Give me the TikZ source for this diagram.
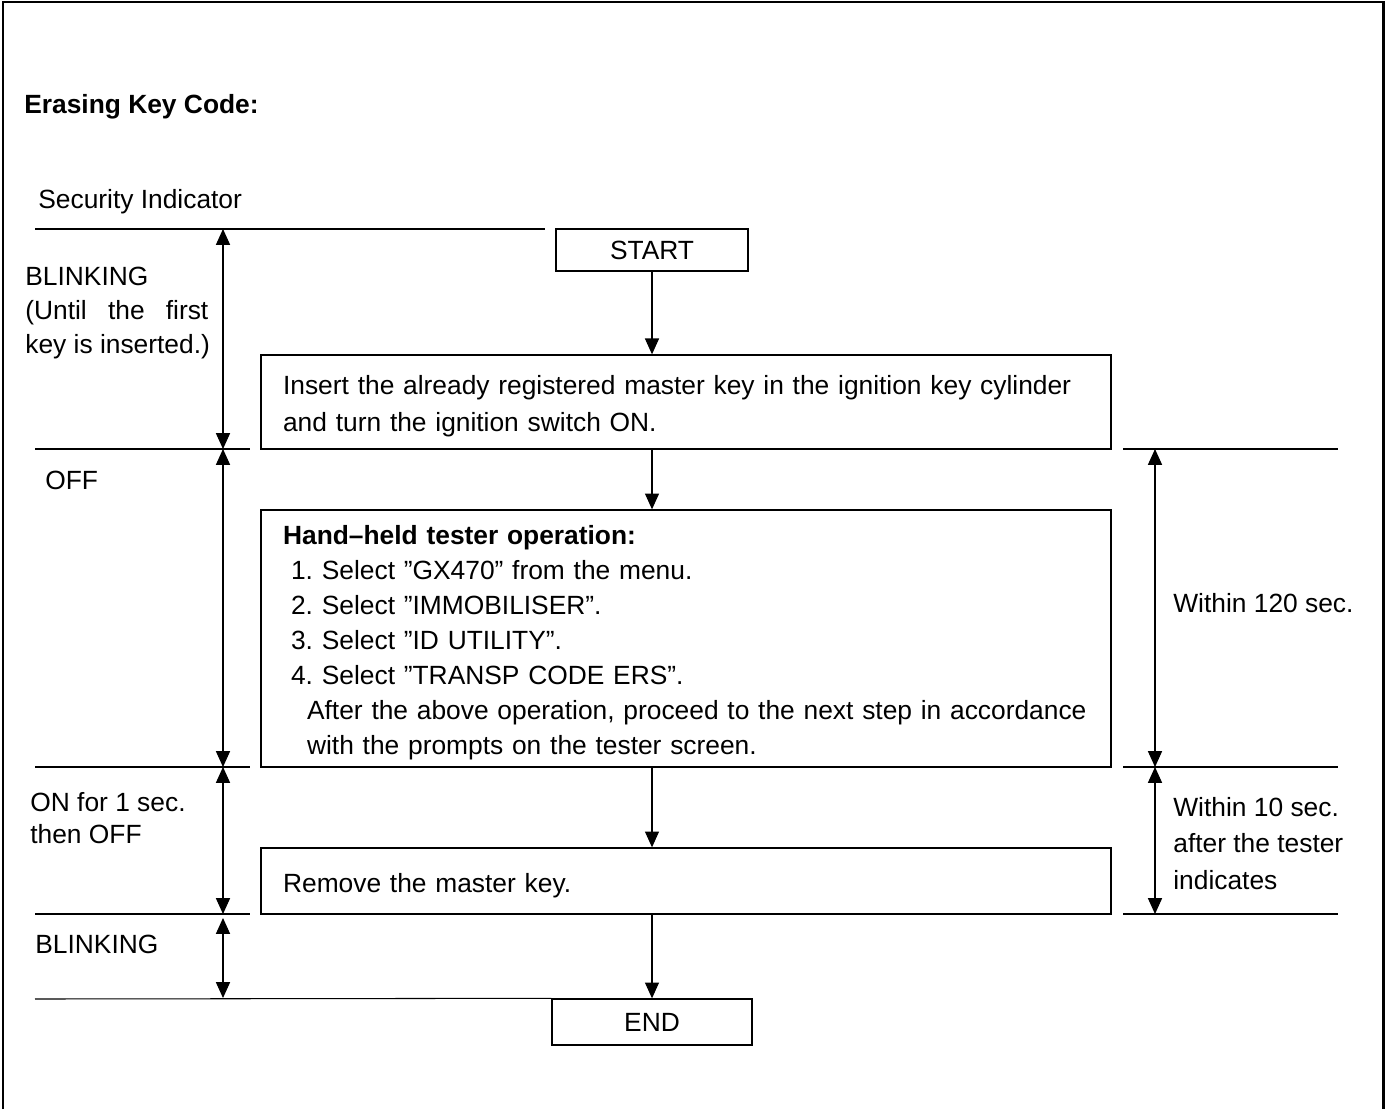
\documentclass[tikz,border=0pt]{standalone}
\usepackage{fontspec}
\setmainfont{Liberation Sans}
\usetikzlibrary{arrows.meta}

\begin{document}
\frenchspacing
\begin{tikzpicture}[x=0.02cm, y=-0.02cm, font=\fontsize{15}{20}\selectfont,
    box/.style={draw, rectangle, line width=0.8pt, inner xsep=0.44cm, inner ysep=0pt},
    stepbox/.style={box, minimum width=17cm, text width=16.12cm, align=left,
        execute at begin node=\rule{0pt}{0.55cm}},
    lbl/.style={anchor=base west, inner sep=0pt, align=left},
    rule/.style={line width=0.6pt},
    flow/.style={line width=0.6pt, -{Triangle[length=9pt, width=8pt]}},
    span/.style={line width=0.6pt, {Triangle[length=9pt, width=8pt]}-{Triangle[length=9pt, width=8pt]}}]
    \useasboundingbox (0,0) rectangle (1386,1109);
    \draw[line width=1.7pt] (3,1109) -- (3,2) -- (1383,2) -- (1383,1109);

    \node[lbl, font=\fontsize{15}{20}\selectfont\bfseries] (title) at (24,113) {Erasing Key Code:};
    \node[lbl] (sec) at (38,208) {Security Indicator};

    % flow
    \node[box, minimum width=3.84cm, minimum height=0.84cm] (START) at (652,250) {START};
    \node[stepbox, minimum height=1.88cm, font=\fontsize{15}{20.6}\selectfont] (ins) at (686,402)
        {Insert the already registered master key in the ignition key cylinder\\and turn the ignition switch ON.};
    \node[stepbox, minimum height=5.14cm, font=\fontsize{15}{20}\selectfont] (tester) at (686,638.5)
        {\textbf{Hand–held tester operation:}\\
         \hspace*{0.16cm}1. Select ”GX470” from the menu.\\
         \hspace*{0.16cm}2. Select ”IMMOBILISER”.\\
         \hspace*{0.16cm}3. Select ”ID UTILITY”.\\
         \hspace*{0.16cm}4. Select ”TRANSP CODE ERS”.\\
         \hspace*{0.48cm}After the above operation, proceed to the next step in accordance\\
         \hspace*{0.48cm}with the prompts on the tester screen.};
    \node[stepbox, minimum height=1.32cm] (rem) at (686,881) {Remove the master key.};
    \node[box, minimum width=4cm, minimum height=0.92cm] (END) at (652,1022) {END};

    \draw[flow] (START) -- (START |- ins.north);
    \draw[flow] (ins.south -| START) -- (START |- tester.north);
    \draw[flow] (tester.south -| START) -- (START |- rem.north);
    \draw[flow] (rem.south -| END) -- (END);

    % indicator states
    \draw[rule] (35,229) -- (545,229);
    \draw[rule] (35,449) -- (250,449);
    \draw[rule] (35,767) -- (250,767);
    \draw[rule] (35,914) -- (250,914);
    \draw[rule] (35,999) -- (END.north west);
    \draw[rule] (1123,449) -- (1338,449);
    \draw[rule] (1123,767) -- (1338,767);
    \draw[rule] (1123,914) -- (1338,914);

    \coordinate (L0) at (223,229);
    \coordinate (L1) at (223,449);
    \coordinate (L2) at (223,767);
    \coordinate (L3) at (223,914);
    \coordinate (L3b) at (223,918);
    \coordinate (L4) at (223,998);
    \coordinate (R1) at (1155,449);
    \coordinate (R2) at (1155,767);
    \coordinate (R3) at (1155,914);
    \draw[span] (L0) -- (L1);
    \draw[span] (L1) -- (L2);
    \draw[span] (L2) -- (L3);
    \draw[span] (L3b) -- (L4);
    \draw[span] (R1) -- (R2);
    \draw[span] (R2) -- (R3);

    % last baseline sets the node
    \node[lbl, font=\fontsize{15}{19.3}\selectfont] (blink) at (25,353)
        {BLINKING\\\makebox[3.66cm][s]{(Until the first}\\key is inserted.)};
    \node[lbl] (off) at (45,489) {OFF};
    \node[lbl, font=\fontsize{15}{18.1}\selectfont] (on) at (30,843) {ON for 1 sec.\\then OFF};
    \node[lbl] (blink2) at (35,953) {BLINKING};
    \node[lbl] (w120) at (1173,612) {Within 120 sec.};
    \node[lbl, font=\fontsize{15}{20.7}\selectfont] (w10) at (1173,889) {Within 10 sec.\\after the tester\\indicates};
\end{tikzpicture}
\end{document}
